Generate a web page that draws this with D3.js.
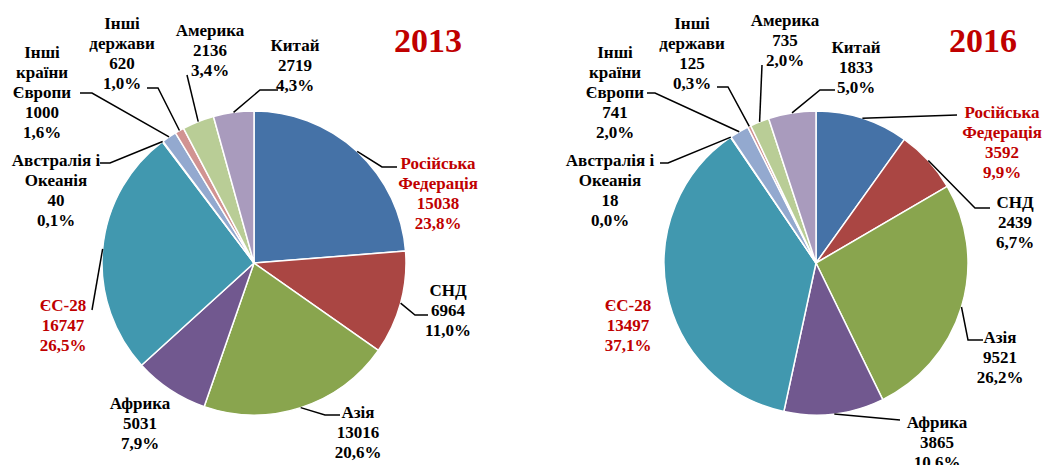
<!DOCTYPE html>
<html><head><meta charset="utf-8">
<script src="https://cdn.jsdelivr.net/npm/d3@7"></script>
<style>body{margin:0;background:#fff}svg{display:block}</style>
</head><body>
<svg id="chart" width="1042" height="465"></svg>
<script>
const categories = ["Російська Федерація","СНД","Азія","Африка","ЄС-28","Австралія і Океанія","Інші країни Європи","Інші держави","Америка","Китай"];
const labelLines = [["Російська","Федерація"],["СНД"],["Азія"],["Африка"],["ЄС-28"],["Австралія і","Океанія"],["Інші","країни","Європи"],["Інші","держави"],["Америка"],["Китай"]];
const values2013 = [15038,6964,13016,5031,16747,40,1000,620,2136,2719];
const values2016 = [3592,2439,9521,3865,13497,18,741,125,735,1833];
const years = ["2013","2016"];
const colors = ["#4572A7","#AA4643","#89A54E","#71588F","#4198AF","#DB843D","#93A9CF","#D19392","#B9CD96","#A99BBD"];
const highlighted = [0,4];

// layout: label positions (first line centre) and leader elbows
const layoutLeft = {cx:254, cy:263, r:152, title:[428,40], labels:[
  {x:438,y:163,pts:[[397,167],[382,167]]},
  {x:448,y:290,pts:[[428,315],[415,315]]},
  {x:358,y:412,pts:[[340,415],[325,415]]},
  {x:140,y:403,pts:null},
  {x:63,y:305,pts:[[92,310]]},
  {x:56,y:160,pts:[[100,163],[110,163]]},
  {x:42,y:52,pts:[[80,93],[92,93]]},
  {x:122,y:23,pts:[[147,88],[158,88]]},
  {x:210,y:30,pts:[[187,75]]},
  {x:295,y:45,pts:[[278,90],[260,90]]}
]};
const layoutRight = {cx:816, cy:263, r:152, title:[983,40], labels:[
  {x:1002,y:112,pts:[[957,115]]},
  {x:1015,y:202,pts:[[990,208],[975,208]]},
  {x:1000,y:337,pts:[[983,340],[968,340]]},
  {x:937,y:422,pts:[[900,420]]},
  {x:628,y:305,pts:null},
  {x:610,y:160,pts:[[660,163],[668,163]]},
  {x:615,y:52,pts:[[647,93],[655,93]]},
  {x:692,y:23,pts:[[717,87],[728,87]]},
  {x:785,y:20,pts:[[762,65]]},
  {x:856,y:47,pts:[[835,90],[820,90]]}
]};

const svg = d3.select("#chart");
const FONT = "'Liberation Serif','Times New Roman',serif";
const fmt = d3.format(".1f");
const RED = "#C00000";

function drawPie(values, year, L){
  const total = d3.sum(values);
  const pie = d3.pie().sort(null).value(d=>d);
  const arcs = pie(values);
  const arc = d3.arc().innerRadius(0).outerRadius(L.r);
  const g = svg.append("g").attr("transform",`translate(${L.cx},${L.cy})`);
  g.selectAll("path").data(arcs).join("path")
    .attr("d",arc)
    .attr("fill",(d,i)=>colors[i])
    .attr("stroke","#fff").attr("stroke-width",1.5).attr("stroke-linejoin","round");

  // leaders
  const line = d3.line();
  arcs.forEach((a,i)=>{
    const lab = L.labels[i];
    if(!lab.pts) return;
    const mid = (a.startAngle+a.endAngle)/2;
    const px = L.cx + L.r*Math.sin(mid), py = L.cy - L.r*Math.cos(mid);
    svg.append("path").attr("d", line([...lab.pts,[px,py]]))
      .attr("fill","none").attr("stroke","#000").attr("stroke-width",1.5);
  });

  // labels
  arcs.forEach((a,i)=>{
    const lab = L.labels[i];
    const lines = [...labelLines[i], String(values[i]), fmt(values[i]/total*100).replace(".",",")+"%"];
    const t = svg.append("text").attr("font-family",FONT).attr("font-weight","bold")
      .attr("font-size",17).attr("text-anchor","middle")
      .attr("fill", highlighted.includes(i)?RED:"#000");
    lines.forEach((s,k)=>{
      t.append("tspan").attr("x",lab.x).attr("y",lab.y+k*20).attr("dy","0.35em").text(s);
    });
  });

  svg.append("text").attr("x",L.title[0]).attr("y",L.title[1]).attr("dy","0.35em")
    .attr("text-anchor","middle").attr("font-family",FONT).attr("font-weight","bold")
    .attr("font-size",34).attr("fill",RED).text(year);
}

drawPie(values2013, years[0], layoutLeft);
drawPie(values2016, years[1], layoutRight);
</script>
</body></html>
